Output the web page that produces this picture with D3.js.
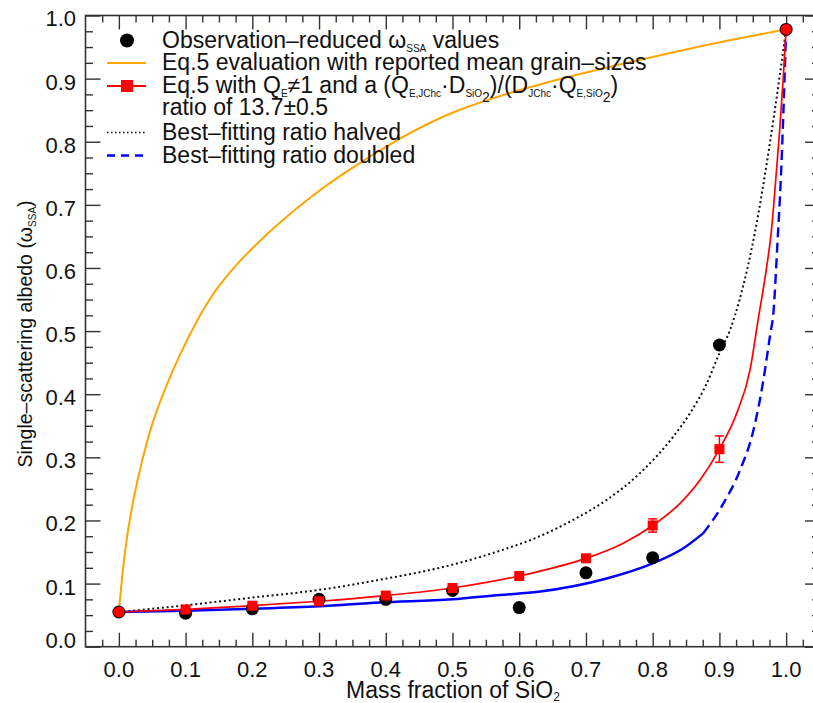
<!DOCTYPE html>
<html>
<head>
<meta charset="utf-8">
<script src="https://cdn.jsdelivr.net/npm/d3@7"></script>
<style>
  body { margin: 0; background: #fff; }
  svg { display: block; }
  text { font-family: "Liberation Sans", Arial, Helvetica, sans-serif; fill: #111; }
</style>
</head>
<body>
<svg id="chart" width="813" height="703"></svg>
<script>
// ---- data -------------------------------------------------------------
const massFraction   = [0.0, 0.1, 0.2, 0.3, 0.4, 0.5, 0.6, 0.7, 0.8, 0.9, 1.0];
const observedAlbedo = [0.055, 0.053, 0.060, 0.075, 0.075, 0.089, 0.062, 0.117, 0.141, 0.478, 0.978];
const fittedAlbedo   = [0.055, 0.059, 0.065, 0.072, 0.081, 0.093, 0.112, 0.140, 0.192, 0.313, 0.978];
const fittedError    = [0, 0, 0, 0, 0, 0.001, 0.002, 0.004, 0.0105, 0.021, 0];

// Eq.5 with reported mean grain sizes
const grainX = [0, 0.0085, 0.021, 0.036, 0.051, 0.071, 0.091, 0.121, 0.146, 0.186, 0.236, 0.291, 0.336, 0.416, 0.5, 0.622, 0.7, 0.827, 0.9, 1.0];
const grainY = [0.055, 0.153, 0.2325, 0.301, 0.359, 0.414, 0.463, 0.525, 0.568, 0.618, 0.668, 0.716, 0.750, 0.803, 0.850, 0.889, 0.910, 0.941, 0.958, 0.978];

// Eq.5 with best-fitting ratio
const bestX = [0, 0.1, 0.2, 0.3, 0.4, 0.5, 0.6, 0.6285, 0.7, 0.756, 0.8, 0.841, 0.871, 0.9, 0.926, 0.946, 0.958, 0.970, 0.978, 0.984, 0.990, 0.995, 1.0];
const bestY = [0.055, 0.059, 0.065, 0.072, 0.081, 0.093, 0.112, 0.119, 0.140, 0.164, 0.192, 0.227, 0.264, 0.313, 0.370, 0.439, 0.518, 0.596, 0.660, 0.734, 0.814, 0.890, 0.978];

// best-fitting ratio halved
const halfX = [0, 0.091, 0.191, 0.3, 0.391, 0.5, 0.571, 0.6285, 0.681, 0.731, 0.781, 0.831, 0.856, 0.881, 0.9, 0.916, 0.93, 0.953, 0.976, 1.0];
const halfY = [0.055, 0.0645, 0.0767, 0.090, 0.106, 0.130, 0.152, 0.174, 0.201, 0.2325, 0.275, 0.333, 0.370, 0.417, 0.465, 0.502, 0.549, 0.655, 0.800, 0.978];

// best-fitting ratio doubled (solid where flat, dashed on the steep rise)
const doubleX = [0, 0.1, 0.2, 0.3, 0.391, 0.5, 0.571, 0.6285, 0.731, 0.8, 0.846, 0.876, 0.906, 0.931, 0.951, 0.966, 0.976, 0.981, 0.987, 0.992, 1.0];
const doubleY = [0.055, 0.057, 0.060, 0.064, 0.070, 0.075, 0.082, 0.087, 0.108, 0.132, 0.156, 0.180, 0.227, 0.280, 0.343, 0.423, 0.494, 0.530, 0.640, 0.740, 0.978];
const doubleSolidUntil = 0.876;

const xTickValues = [0.0, 0.1, 0.2, 0.3, 0.4, 0.5, 0.6, 0.7, 0.8, 0.9, 1.0];
const yTickValues = [0.0, 0.1, 0.2, 0.3, 0.4, 0.5, 0.6, 0.7, 0.8, 0.9, 1.0];

// ---- layout -----------------------------------------------------------
const svg = d3.select("#chart");
const L = 85.5, R = 819.5, T = 15.5, B = 646.7;
const x = d3.scaleLinear().domain([-0.05, 1.05]).range([L, R]);
const y = d3.scaleLinear().domain([0, 1]).range([B, T]);
const minorX = d3.range(-0.025, 1.05, 0.025).filter(v => Math.abs(v * 10 - Math.round(v * 10)) > 1e-6);
const minorY = d3.range(0.025, 1.0, 0.025).filter(v => Math.abs(v * 10 - Math.round(v * 10)) > 1e-6);
const FS = 22;      // tick labels
const LFS = 23;     // legend and x title
const axisColor = "#333";

// frame ticks via d3 axes (inward pointing)
function styleAxis(g) {
  g.select(".domain").remove();
  g.selectAll("line").attr("stroke", axisColor).attr("stroke-width", 1.4);
  g.selectAll("text").remove();
}
svg.append("g").attr("transform", `translate(0,${B})`)
  .call(d3.axisBottom(x).tickValues(xTickValues).tickSize(-14)).call(styleAxis);
svg.append("g").attr("transform", `translate(0,${B})`)
  .call(d3.axisBottom(x).tickValues(minorX).tickSize(-7)).call(styleAxis);
svg.append("g").attr("transform", `translate(0,${T})`)
  .call(d3.axisTop(x).tickValues(xTickValues).tickSize(-14)).call(styleAxis);
svg.append("g").attr("transform", `translate(0,${T})`)
  .call(d3.axisTop(x).tickValues(minorX).tickSize(-7)).call(styleAxis);
svg.append("g").attr("transform", `translate(${L},0)`)
  .call(d3.axisLeft(y).tickValues(yTickValues).tickSize(-15)).call(styleAxis);
svg.append("g").attr("transform", `translate(${L},0)`)
  .call(d3.axisLeft(y).tickValues(minorY).tickSize(-7.5)).call(styleAxis);
svg.append("g").attr("transform", `translate(${R},0)`)
  .call(d3.axisRight(y).tickValues(yTickValues).tickSize(-14.5)).call(styleAxis);
svg.append("g").attr("transform", `translate(${R},0)`)
  .call(d3.axisRight(y).tickValues(minorY).tickSize(-7.5)).call(styleAxis);

svg.append("rect").attr("x", L).attr("y", T).attr("width", R - L).attr("height", B - T)
  .attr("fill", "none").attr("stroke", axisColor).attr("stroke-width", 1.6);

// tick labels
const fmt = d3.format(".1f");
svg.append("g").selectAll("text").data(xTickValues).join("text")
  .attr("x", d => x(d)).attr("y", 677).attr("text-anchor", "middle")
  .attr("font-size", FS).text(fmt);
svg.append("g").selectAll("text").data(yTickValues).join("text")
  .attr("x", 76).attr("y", d => Math.min(y(d) + 3, B - 7)).attr("dy", "0.36em")
  .attr("text-anchor", "end").attr("font-size", FS).text(fmt);

// axis titles
const xt = svg.append("text").attr("x", 453).attr("y", 698).attr("text-anchor", "middle").attr("font-size", LFS);
xt.append("tspan").text("Mass fraction of SiO");
xt.append("tspan").attr("font-size", 12).attr("dy", 3).text("2");

const yt = svg.append("text").attr("transform", "translate(32,334) rotate(-90)")
  .attr("text-anchor", "middle").attr("font-size", 19.5);
yt.append("tspan").text("Single\u2013scattering albedo (\u03c9");
yt.append("tspan").attr("font-size", 10).attr("dy", 4).text("SSA");
yt.append("tspan").attr("dy", -4).text(")");

// ---- curves -------------------------------------------------------------
const line = d3.line().x(d => x(d[0])).y(d => y(d[1])).curve(d3.curveMonotoneX);
const smoothLine = d3.line().x(d => x(d[0])).y(d => y(d[1])).curve(d3.curveBasis);
const plot = svg.append("g");

plot.append("path").datum(d3.zip(grainX, grainY)).attr("d", smoothLine)
  .attr("fill", "none").attr("stroke", "#FFA500").attr("stroke-width", 2);

plot.append("path").datum(d3.zip(halfX, halfY)).attr("d", line)
  .attr("fill", "none").attr("stroke", "#111").attr("stroke-width", 2)
  .attr("stroke-dasharray", "2,2.8");

const dbl = d3.zip(doubleX, doubleY);
plot.append("path").datum(dbl.filter(d => d[0] <= doubleSolidUntil)).attr("d", line)
  .attr("fill", "none").attr("stroke", "#0000FF").attr("stroke-width", 2.5);
plot.append("path").datum(dbl.filter(d => d[0] >= doubleSolidUntil)).attr("d", line)
  .attr("fill", "none").attr("stroke", "#0000FF").attr("stroke-width", 2.4)
  .attr("stroke-dasharray", "10,5.5");

plot.append("path").datum(d3.zip(bestX, bestY)).attr("d", line)
  .attr("fill", "none").attr("stroke", "#FF0000").attr("stroke-width", 1.7);

// observations
plot.append("g").selectAll("circle").data(d3.zip(massFraction, observedAlbedo)).join("circle")
  .attr("cx", d => x(d[0])).attr("cy", d => y(d[1])).attr("r", 6.5).attr("fill", "#000");

// fitted values with error bars
const fitted = massFraction.map((m, i) => ({ m, v: fittedAlbedo[i], e: fittedError[i] }));
const interior = fitted.filter(d => d.m > 0 && d.m < 1);
const eb = plot.append("g").attr("stroke", "#FF0000").attr("stroke-width", 1.5);
interior.filter(d => y(d.v - d.e) - y(d.v + d.e) > 10).forEach(d => {
  const cx = x(d.m), y1 = y(d.v + d.e), y2 = y(d.v - d.e);
  eb.append("line").attr("x1", cx).attr("x2", cx).attr("y1", y1).attr("y2", y2);
  eb.append("line").attr("x1", cx - 4.5).attr("x2", cx + 4.5).attr("y1", y1).attr("y2", y1);
  eb.append("line").attr("x1", cx - 4.5).attr("x2", cx + 4.5).attr("y1", y2).attr("y2", y2);
});
plot.append("g").selectAll("rect").data(interior).join("rect")
  .attr("x", d => x(d.m) - 5).attr("y", d => y(d.v) - 5).attr("width", 10).attr("height", 10)
  .attr("fill", "#FF0000");
plot.append("g").selectAll("circle").data(fitted.filter(d => d.m === 0 || d.m === 1)).join("circle")
  .attr("cx", d => x(d.m)).attr("cy", d => y(d.v)).attr("r", 5.5).attr("fill", "#FF0000");

// ---- legend -------------------------------------------------------------
const lg = svg.append("g");
const sx0 = 107, sx1 = 146, sxc = 127, tx = 162;
const base = [47.5, 70, 93, 115, 139.5, 162.5];

lg.append("circle").attr("cx", sxc).attr("cy", base[0] - 7).attr("r", 7).attr("fill", "#000");
const t1 = lg.append("text").attr("x", tx).attr("y", base[0]).attr("font-size", LFS);
t1.append("tspan").text("Observation\u2013reduced \u03c9");
t1.append("tspan").attr("font-size", 10).attr("dy", 4).text("SSA");
t1.append("tspan").attr("dy", -4).text(" values");

lg.append("line").attr("x1", sx0).attr("x2", sx1).attr("y1", base[1] - 7).attr("y2", base[1] - 7)
  .attr("stroke", "#FFA500").attr("stroke-width", 2);
lg.append("text").attr("x", tx).attr("y", base[1]).attr("font-size", LFS)
  .text("Eq.5 evaluation with reported mean grain\u2013sizes");

lg.append("line").attr("x1", sx0).attr("x2", sx1).attr("y1", base[2] - 7).attr("y2", base[2] - 7)
  .attr("stroke", "#FF0000").attr("stroke-width", 2);
lg.append("rect").attr("x", sxc - 6).attr("y", base[2] - 13).attr("width", 12).attr("height", 12).attr("fill", "#FF0000");
const t3 = lg.append("text").attr("x", tx).attr("y", base[2]).attr("font-size", LFS);
t3.append("tspan").text("Eq.5 with Q");
t3.append("tspan").attr("font-size", 10).attr("dy", 4).text("E");
t3.append("tspan").attr("dy", -4).text("\u22601 and a (Q");
t3.append("tspan").attr("font-size", 10).attr("dy", 4).text("E,JChc");
t3.append("tspan").attr("dy", -4).text("\u00b7D");
t3.append("tspan").attr("font-size", 10).attr("dy", 4).text("SiO");
t3.append("tspan").attr("font-size", 14).attr("dy", 5).text("2");
t3.append("tspan").attr("dy", -9).text(")/(D");
t3.append("tspan").attr("font-size", 10).attr("dy", 4).text("JChc");
t3.append("tspan").attr("dy", -4).text("\u00b7Q");
t3.append("tspan").attr("font-size", 10).attr("dy", 4).text("E,SiO");
t3.append("tspan").attr("font-size", 14).attr("dy", 5).text("2");
t3.append("tspan").attr("dy", -9).text(")");
lg.append("text").attr("x", tx).attr("y", base[3]).attr("font-size", LFS).text("ratio of 13.7\u00b10.5");

lg.append("line").attr("x1", sx0).attr("x2", sx1).attr("y1", base[4] - 7).attr("y2", base[4] - 7)
  .attr("stroke", "#111").attr("stroke-width", 1.6).attr("stroke-dasharray", "1.6,2.4");
lg.append("text").attr("x", tx).attr("y", base[4]).attr("font-size", LFS).text("Best\u2013fitting ratio halved");

lg.append("line").attr("x1", sx0).attr("x2", sx1).attr("y1", base[5] - 7).attr("y2", base[5] - 7)
  .attr("stroke", "#0000FF").attr("stroke-width", 2.4).attr("stroke-dasharray", "8,6");
lg.append("text").attr("x", tx).attr("y", base[5]).attr("font-size", LFS).text("Best\u2013fitting ratio doubled");
</script>
</body>
</html>
